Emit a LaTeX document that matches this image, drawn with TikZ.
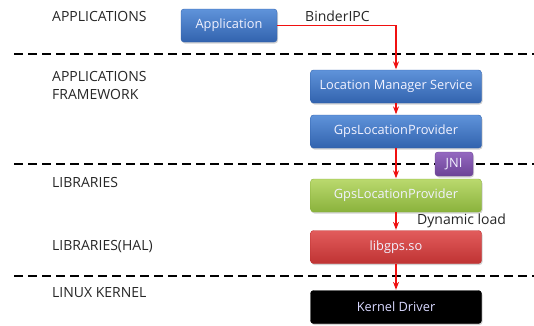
\documentclass[tikz,border=0pt]{standalone}
\usepackage{fontspec}
\setmainfont{Open Sans}
\usepackage{xcolor}
\usetikzlibrary{positioning, arrows.meta, shadows}

\definecolor{blueTop}{HTML}{5F93DA}
\definecolor{blueBot}{HTML}{3263AE}
\definecolor{greenTop}{HTML}{BAD96E}
\definecolor{greenBot}{HTML}{8AB23C}
\definecolor{redTop}{HTML}{E25C5C}
\definecolor{redBot}{HTML}{BF3333}
\definecolor{violetTop}{HTML}{9468C0}
\definecolor{violetBot}{HTML}{6C4396}
\definecolor{callRed}{HTML}{F01010}

\tikzset{
  box/.style={rounded corners=3pt, minimum width=171pt, minimum height=33pt,
    inner sep=0pt, text=white!95!blue, font=\fontsize{12.8}{15}\selectfont,
    drop shadow={shadow xshift=1pt, shadow yshift=-1.5pt, opacity=0.35}},
  bluebox/.style={box, top color=blueTop, bottom color=blueBot, draw=blueBot},
  greenbox/.style={box, top color=greenTop, bottom color=greenBot, draw=greenBot},
  redbox/.style={box, top color=redTop, bottom color=redBot, draw=redBot},
  blackbox/.style={box, fill=black, draw=black, text=blue!15!white},
  layer/.style={anchor=west, inner sep=0pt, text=black!85},
  sep/.style={line width=1.5pt, dash pattern=on 9pt off 5pt},
  call/.style={->, draw=callRed, line width=1.1pt, shorten >=0.5pt}
}

\begin{document}
\begin{tikzpicture}[x=1pt, y=-1pt, >=Stealth, font=\fontsize{14}{18}\selectfont]
  \useasboundingbox (0,0) rectangle (534,325);

  % layer separators
  \foreach \y in {54,164,276}
    \draw[sep] (14,\y) -- (534,\y);

  % layer names
  \node[layer] (lapp) at (52,16) {APPLICATIONS};
  \node[layer, align=left] (lfw) at (52,85) {APPLICATIONS\\FRAMEWORK};
  \node[layer] (llib) at (52,182) {LIBRARIES};
  \node[layer] (lhal) at (52,247) {LIBRARIES(HAL)};
  \node[layer] (lkern) at (52,293) {LINUX KERNEL};

  % components
  \node[bluebox, minimum width=96pt] (app) at (229,25.5) {Application};
  \node[bluebox] (lms) at (396,86.5) {Location Manager Service};
  \node[bluebox] (gpsj) at (396,131.5) {GpsLocationProvider};
  \node[greenbox] (gpsn) at (396,195.5) {GpsLocationProvider};
  \node[redbox] (libgps) at (396,247) {libgps.so};
  \node[blackbox] (kdrv) at (396,307) {Kernel Driver};
  \node[box, minimum width=38pt, minimum height=24pt, top color=violetTop,
    bottom color=violetBot, draw=violetBot] (jni) at (454,164) {JNI};

  % calls
  \draw[call] (app.east) -| (lms.north);
  \node[layer] (binder) at (305,16) {BinderIPC};
  \path[call]
    (lms) edge (gpsj)
    (gpsj) edge (gpsn)
    (gpsn) edge (libgps)
    (libgps) edge (kdrv);
  \node[layer] (dyn) at (417,221) {Dynamic load};
\end{tikzpicture}
\end{document}
